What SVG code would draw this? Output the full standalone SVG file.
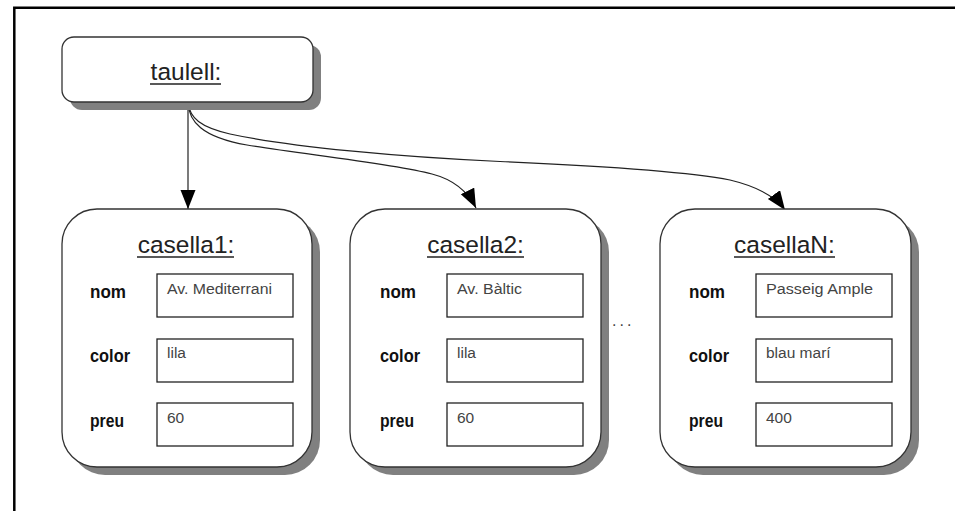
<svg xmlns="http://www.w3.org/2000/svg" width="955" height="511" viewBox="0 0 955 511">
<defs>
<style>
.frame{fill:none;stroke:#000;stroke-width:2.5}
.shadow{fill:#808080}
.box{fill:#fff;stroke:#333;stroke-width:1.3}
.field{fill:#fff;stroke:#222;stroke-width:1.3}
.title{font-family:"Liberation Sans",Arial,sans-serif;font-size:24.5px;fill:#222;text-anchor:middle}
.ul{stroke:#222;stroke-width:1.5}
.lbl{font-family:"Liberation Sans",Arial,sans-serif;font-size:19px;font-weight:bold;fill:#111}
.val{font-family:"Liberation Sans",Arial,sans-serif;font-size:15.5px;fill:#444}
.conn{fill:none;stroke:#222;stroke-width:1.2}
</style>
<marker id="arrow" markerUnits="userSpaceOnUse" markerWidth="20" markerHeight="16" refX="19" refY="7.5" orient="auto">
<path d="M0,0 L19,7.5 L0,15 z" fill="#000"/>
</marker>
</defs>
<rect x="0" y="0" width="955" height="511" fill="#fff"/>
<path class="frame" d="M14.3,511 L14.3,7.8 L955,7.8"/>

<g id="connectors">
<path class="conn" d="M188,103 L188,209" marker-end="url(#arrow)"/>
<path class="conn" d="M188,103 C189,121 201,137 247,145 C300,154 390,163 432,174 C455,180 468,192 476,208" marker-end="url(#arrow)"/>
<path class="conn" d="M188,103 C190,118 200,127 230,134 C290,147 400,157 500,161.5 C580,165 680,170 730,180 C755,186 775,196 785,210" marker-end="url(#arrow)"/>
</g>

<g id="taulell">
<rect class="shadow" x="70" y="45" width="251" height="65" rx="12"/>
<rect class="box" x="62" y="37" width="251" height="65" rx="12"/>
<text class="title" x="186" y="80">taulell:</text>
<line class="ul" x1="150" y1="84" x2="221" y2="84"/>
</g>

<g id="casella1">
<rect class="shadow" x="70" y="217" width="250" height="258" rx="35"/>
<rect class="box" x="62" y="209" width="250" height="258" rx="35"/>
<text class="title" x="186" y="253">casella1:</text>
<line class="ul" x1="137" y1="257" x2="234" y2="257"/>
<text class="lbl" x="90" y="298" textLength="36" lengthAdjust="spacingAndGlyphs">nom</text>
<text class="lbl" x="90" y="362" textLength="40" lengthAdjust="spacingAndGlyphs">color</text>
<text class="lbl" x="90" y="427" textLength="34" lengthAdjust="spacingAndGlyphs">preu</text>
<rect class="field" x="157" y="274" width="136" height="43"/>
<rect class="field" x="157" y="339" width="136" height="43"/>
<rect class="field" x="157" y="403" width="136" height="43"/>
<text class="val" x="167" y="294" textLength="105" lengthAdjust="spacingAndGlyphs">Av. Mediterrani</text>
<text class="val" x="167" y="358">lila</text>
<text class="val" x="167" y="423">60</text>
</g>

<g id="casella2">
<rect class="shadow" x="358" y="217" width="251" height="258" rx="35"/>
<rect class="box" x="350" y="209" width="251" height="258" rx="35"/>
<text class="title" x="475.5" y="253">casella2:</text>
<line class="ul" x1="427" y1="257" x2="524" y2="257"/>
<text class="lbl" x="380" y="298" textLength="36" lengthAdjust="spacingAndGlyphs">nom</text>
<text class="lbl" x="380" y="362" textLength="40" lengthAdjust="spacingAndGlyphs">color</text>
<text class="lbl" x="380" y="427" textLength="34" lengthAdjust="spacingAndGlyphs">preu</text>
<rect class="field" x="447" y="274" width="136" height="43"/>
<rect class="field" x="447" y="339" width="136" height="43"/>
<rect class="field" x="447" y="403" width="136" height="43"/>
<text class="val" x="457" y="294" textLength="65" lengthAdjust="spacingAndGlyphs">Av. Bàltic</text>
<text class="val" x="457" y="358">lila</text>
<text class="val" x="457" y="423">60</text>
</g>

<text class="val" x="612" y="326" style="font-size:16px;letter-spacing:3px">...</text>

<g id="casellaN">
<rect class="shadow" x="668" y="217" width="251" height="258" rx="35"/>
<rect class="box" x="660" y="209" width="251" height="258" rx="35"/>
<text class="title" x="784.5" y="253">casellaN:</text>
<line class="ul" x1="734" y1="257" x2="835" y2="257"/>
<text class="lbl" x="689" y="298" textLength="36" lengthAdjust="spacingAndGlyphs">nom</text>
<text class="lbl" x="689" y="362" textLength="40" lengthAdjust="spacingAndGlyphs">color</text>
<text class="lbl" x="689" y="427" textLength="34" lengthAdjust="spacingAndGlyphs">preu</text>
<rect class="field" x="756" y="274" width="136" height="43"/>
<rect class="field" x="756" y="339" width="136" height="43"/>
<rect class="field" x="756" y="403" width="136" height="43"/>
<text class="val" x="766" y="294" textLength="107" lengthAdjust="spacingAndGlyphs">Passeig Ample</text>
<text class="val" x="766" y="358">blau marí</text>
<text class="val" x="766" y="423">400</text>
</g>
</svg>
